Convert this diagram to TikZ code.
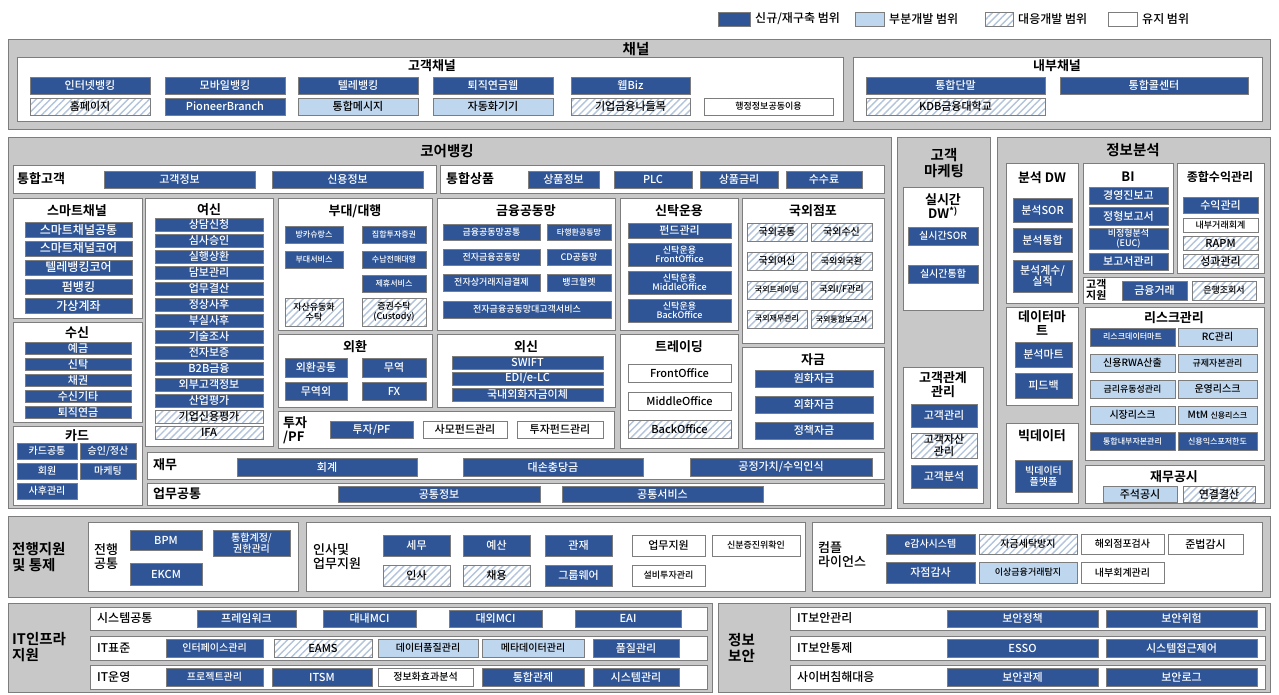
\documentclass[tikz,border=0pt]{standalone}
\usepackage{fontspec}
\setmainfont{Noto Sans CJK KR}[UprightFont={* Medium}, BoldFont={* Bold}]
\usetikzlibrary{positioning,patterns.meta}

\definecolor{dkblue}{RGB}{47,85,150}
\definecolor{ltblue}{RGB}{190,214,238}
\definecolor{grpgray}{RGB}{200,200,200}
\definecolor{hatchc}{RGB}{178,196,220}
\definecolor{edgec}{RGB}{125,125,125}

\newcommand{\fsBig}{\bfseries\fontsize{14.5}{15.5}\selectfont}
\newcommand{\fsHead}{\bfseries\fontsize{13}{14}\selectfont}
\newcommand{\fsLbl}{\fontsize{12}{13}\selectfont}
\newcommand{\fsItem}{\fontsize{11}{11.5}\selectfont}
\newcommand{\fsMid}{\fontsize{10}{10.5}\selectfont}
\newcommand{\fsSmall}{\fontsize{9}{9.5}\selectfont}
\newcommand{\fsTiny}{\fontsize{8}{8.5}\selectfont}

% box from corner (x1,y1) to corner (x2,y2)
\newcommand{\mkbox}[7]{\node[#1, minimum width={(#5-#3)*1pt}, minimum height={(#6-#4)*1pt}] (#2) at ({(#3+#5)/2},{(#4+#6)/2}) {#7};}

\tikzset{
  cell/.style={draw=edgec, line width=0.5pt, inner sep=0pt, outer sep=0pt, align=center, font=\fsItem},
  dk/.style={cell, fill=dkblue, text=white},
  lt/.style={cell, fill=ltblue},
  ht/.style={cell, pattern={Lines[angle=45,distance=5pt,line width=1.4pt]}, pattern color=hatchc},
  wt/.style={cell, fill=white},
  grp/.style={draw=edgec, line width=0.8pt, fill=grpgray, inner sep=0pt},
  pnl/.style={draw=edgec, line width=0.6pt, fill=white, inner sep=0pt},
  big/.style={font=\fsBig, inner sep=0pt, align=center},
  head/.style={font=\fsHead, inner sep=0pt, align=center},
  side/.style={font=\fsBig, inner sep=0pt, align=left, anchor=west},
  lbl/.style={font=\fsHead, inner sep=0pt, align=left, anchor=west},
  rowlbl/.style={font=\fsLbl, inner sep=0pt, align=left, anchor=west},
  legtxt/.style={font=\fsLbl, inner sep=0pt},
}

\begin{document}
\begin{tikzpicture}[x=1pt, y=-1pt]
    \useasboundingbox (0,0) rectangle (1279,694);
    \fill[white] (0,0) rectangle (1279,694);

    % Legend
    \mkbox{dk}{lg1}{718}{12}{750}{26}{}
    \node[legtxt, right=5pt of lg1] (lg1t) {신규/재구축 범위};
    \mkbox{lt}{lg2}{855}{12}{884}{26}{}
    \node[legtxt, right=5pt of lg2] (lg2t) {부분개발 범위};
    \mkbox{ht}{lg3}{985}{12}{1013}{26}{}
    \node[legtxt, right=5pt of lg3] (lg3t) {대응개발 범위};
    \mkbox{wt}{lg4}{1108}{12}{1137}{26}{}
    \node[legtxt, right=5pt of lg4] (lg4t) {유지 범위};

    % Channel
    \mkbox{grp}{chan}{8}{39}{1270}{129}{}
    \node[big] (chanT) at (636,49) {채널};
    \mkbox{pnl}{cch}{17}{57}{843}{121}{}
    \node[head] (cchT) at (432,66) {고객채널};
    \mkbox{dk}{ibk}{30}{77}{150}{94}{인터넷뱅킹}
    \mkbox{dk}{mbk}{165}{77}{285}{94}{모바일뱅킹}
    \mkbox{dk}{tbk}{298}{77}{418}{94}{텔레뱅킹}
    \mkbox{dk}{rpw}{433}{77}{553}{94}{퇴직연금웹}
    \mkbox{dk}{wbz}{571}{77}{690}{94}{웹Biz}
    \mkbox{ht}{hpg}{30}{98}{150}{115}{홈페이지}
    \mkbox{dk}{pnb}{165}{98}{285}{115}{PioneerBranch}
    \mkbox{lt}{ums}{298}{98}{418}{115}{통합메시지}
    \mkbox{lt}{atm}{433}{98}{553}{115}{자동화기기}
    \mkbox{ht}{cfn}{571}{98}{690}{115}{기업금융나들목}
    \mkbox{wt,font=\fsSmall}{adm}{704}{98}{833}{115}{행정정보공동이용}
    \mkbox{pnl}{ich}{853}{57}{1262}{121}{}
    \node[head] (ichT) at (1057,66) {내부채널};
    \mkbox{dk}{tdm}{866}{77}{1045}{94}{통합단말}
    \mkbox{dk}{tcc}{1060}{77}{1248}{94}{통합콜센터}
    \mkbox{ht}{kdb}{866}{98}{1045}{115}{KDB금융대학교}

    % Core banking
    \mkbox{grp}{core}{8}{137}{891}{508}{}
    \node[big] (coreT) at (447,151) {코어뱅킹};
    \mkbox{pnl}{icu}{13}{165}{436}{193}{}
    \node[lbl] (icuT) at (17,179) {통합고객};
    \mkbox{dk}{cin}{104}{171}{255}{188}{고객정보}
    \mkbox{dk}{crd}{272}{171}{423}{188}{신용정보}
    \mkbox{pnl}{ipr}{440}{165}{884}{193}{}
    \node[lbl] (iprT) at (446,179) {통합상품};
    \mkbox{dk}{pin}{528}{171}{599}{188}{상품정보}
    \mkbox{dk}{plc}{614}{171}{692}{188}{PLC}
    \mkbox{dk}{pir}{700}{171}{778}{188}{상품금리}
    \mkbox{dk}{fee}{786}{171}{862}{188}{수수료}

    \mkbox{pnl}{smc}{13}{198}{142}{318}{}
    \node[head] (smcT) at (77,211) {스마트채널};
    \mkbox{dk,font=\fontsize{12}{12}\selectfont}{smc1}{25}{222}{132}{237}{스마트채널공통}
    \mkbox{dk,font=\fontsize{12}{12}\selectfont}{smc2}{25}{241}{132}{256}{스마트채널코어}
    \mkbox{dk,font=\fontsize{12}{12}\selectfont}{smc3}{25}{260}{132}{275}{텔레뱅킹코어}
    \mkbox{dk,font=\fontsize{12}{12}\selectfont}{smc4}{25}{279}{132}{294}{펌뱅킹}
    \mkbox{dk,font=\fontsize{12}{12}\selectfont}{smc5}{25}{298}{132}{313}{가상계좌}

    \mkbox{pnl}{dep}{13}{322}{142}{422}{}
    \node[head] (depT) at (77,333) {수신};
    \mkbox{dk}{dep1}{25}{342}{131}{354}{예금}
    \mkbox{dk}{dep2}{25}{358}{131}{370}{신탁}
    \mkbox{dk}{dep3}{25}{374}{131}{386}{채권}
    \mkbox{dk}{dep4}{25}{390}{131}{402}{수신기타}
    \mkbox{dk}{dep5}{25}{406}{131}{418}{퇴직연금}

    \mkbox{pnl}{card}{13}{426}{142}{505}{}
    \node[head] (cardT) at (77,436) {카드};
    \mkbox{dk,font=\fsMid}{card1}{17}{443}{77}{459}{카드공통}
    \mkbox{dk,font=\fsMid}{card2}{80}{443}{136}{459}{승인/정산}
    \mkbox{dk,font=\fsMid}{card3}{17}{463}{77}{479}{회원}
    \mkbox{dk,font=\fsMid}{card4}{80}{463}{136}{479}{마케팅}
    \mkbox{dk,font=\fsMid}{card5}{17}{483}{77}{499}{사후관리}

    \mkbox{pnl}{loan}{145}{198}{273}{446}{}
    \node[head] (loanT) at (209,210) {여신};
    \mkbox{dk}{ln1}{155}{218}{263}{231}{상담신청}
    \mkbox{dk}{ln2}{155}{234}{263}{247}{심사승인}
    \mkbox{dk}{ln3}{155}{250}{263}{263}{실행상환}
    \mkbox{dk}{ln4}{155}{266}{263}{279}{담보관리}
    \mkbox{dk}{ln5}{155}{282}{263}{295}{업무결산}
    \mkbox{dk}{ln6}{155}{298}{263}{311}{정상사후}
    \mkbox{dk}{ln7}{155}{314}{263}{327}{부실사후}
    \mkbox{dk}{ln8}{155}{330}{263}{343}{기술조사}
    \mkbox{dk}{ln9}{155}{346}{263}{359}{전자보증}
    \mkbox{dk}{ln10}{155}{362}{263}{375}{B2B금융}
    \mkbox{dk}{ln11}{155}{378}{263}{391}{외부고객정보}
    \mkbox{dk}{ln12}{155}{394}{263}{407}{산업평가}
    \mkbox{ht}{ln13}{155}{410}{263}{423}{기업신용평가}
    \mkbox{ht}{ln14}{155}{426}{263}{439}{IFA}

    \mkbox{pnl}{agn}{278}{198}{432}{330}{}
    \node[head] (agnT) at (355,211) {부대/대행};
    \mkbox{dk,font=\fsTiny}{agn1}{285}{226}{343}{243}{방카슈랑스}
    \mkbox{dk,font=\fsTiny}{agn2}{362}{226}{426}{243}{집합투자증권}
    \mkbox{dk,font=\fsTiny}{agn3}{285}{251}{343}{268}{부대서비스}
    \mkbox{dk,font=\fsTiny}{agn4}{362}{251}{426}{268}{수납전매대행}
    \mkbox{dk,font=\fsTiny}{agn5}{362}{275}{426}{292}{제휴서비스}
    \mkbox{ht,font=\fsSmall}{agn6}{285}{298}{343}{326}{자산유동화\\수탁}
    \mkbox{ht,font=\fsSmall}{agn7}{362}{298}{426}{326}{증권수탁\\(Custody)}

    \mkbox{pnl}{fx}{278}{334}{432}{407}{}
    \node[head] (fxT) at (355,347) {외환};
    \mkbox{dk}{fx1}{285}{358}{347}{377}{외환공통}
    \mkbox{dk}{fx2}{362}{358}{426}{377}{무역}
    \mkbox{dk}{fx3}{285}{382}{347}{400}{무역외}
    \mkbox{dk}{fx4}{362}{382}{426}{400}{FX}

    \mkbox{pnl}{inv}{278}{411}{614}{448}{}
    \node[lbl] (invT) at (283,430) {투자\\/PF};
    \mkbox{dk}{inv1}{330}{421}{413}{438}{투자/PF}
    \mkbox{wt}{inv2}{423}{421}{507}{438}{사모펀드관리}
    \mkbox{wt}{inv3}{517}{421}{603}{438}{투자펀드관리}

    \mkbox{pnl}{fcn}{437}{198}{615}{330}{}
    \node[head] (fcnT) at (526,211) {금융공동망};
    \mkbox{dk,font=\fsSmall}{fcn1}{443}{224}{540}{240}{금융공동망공통}
    \mkbox{dk,font=\fsTiny}{fcn2}{547}{224}{611}{240}{타행환공동망}
    \mkbox{dk,font=\fsSmall}{fcn3}{443}{249}{540}{265}{전자금융공동망}
    \mkbox{dk,font=\fsSmall}{fcn4}{547}{249}{611}{265}{CD공동망}
    \mkbox{dk,font=\fsSmall}{fcn5}{443}{274}{540}{291}{전자상거래지급결제}
    \mkbox{dk,font=\fsSmall}{fcn6}{547}{274}{611}{291}{뱅크월렛}
    \mkbox{dk,font=\fsSmall}{fcn7}{443}{301}{611}{318}{전자금융공동망대고객서비스}

    \mkbox{pnl}{fxm}{437}{334}{615}{407}{}
    \node[head] (fxmT) at (526,347) {외신};
    \mkbox{dk}{fxm1}{452}{356}{603}{369}{SWIFT}
    \mkbox{dk}{fxm2}{452}{372}{603}{385}{EDI/e-LC}
    \mkbox{dk}{fxm3}{452}{388}{603}{401}{국내외화자금이체}

    \mkbox{pnl}{trs}{620}{198}{738}{330}{}
    \node[head] (trsT) at (679,211) {신탁운용};
    \mkbox{dk}{trs1}{628}{223}{731}{238}{펀드관리}
    \mkbox{dk,font=\fsSmall}{trs2}{628}{243}{731}{266}{신탁운용\\FrontOffice}
    \mkbox{dk,font=\fsSmall}{trs3}{628}{271}{731}{294}{신탁운용\\MiddleOffice}
    \mkbox{dk,font=\fsSmall}{trs4}{628}{299}{731}{322}{신탁운용\\BackOffice}

    \mkbox{pnl}{trd}{620}{334}{738}{448}{}
    \node[head] (trdT) at (679,347) {트레이딩};
    \mkbox{wt}{trd1}{628}{364}{731}{382}{FrontOffice}
    \mkbox{wt}{trd2}{628}{392}{731}{410}{MiddleOffice}
    \mkbox{ht}{trd3}{628}{420}{731}{438}{BackOffice}

    \mkbox{pnl}{ovs}{742}{198}{884}{343}{}
    \node[head] (ovsT) at (813,211) {국외점포};
    \mkbox{ht,font=\fsMid}{ovs1}{747}{223}{807}{241}{국외공통}
    \mkbox{ht,font=\fsMid}{ovs2}{811}{223}{872}{241}{국외수신}
    \mkbox{ht,font=\fsMid}{ovs3}{747}{252}{807}{270}{국외여신}
    \mkbox{ht,font=\fsSmall}{ovs4}{811}{252}{872}{270}{국외외국환}
    \mkbox{ht,font=\fsTiny}{ovs5}{747}{281}{807}{299}{국외트레이딩}
    \mkbox{ht,font=\fsSmall}{ovs6}{811}{281}{872}{299}{국외I/F관리}
    \mkbox{ht,font=\fsTiny}{ovs7}{747}{310}{807}{328}{국외재무관리}
    \mkbox{ht,font=\fsTiny}{ovs8}{811}{310}{872}{328}{국외통합보고서}

    \mkbox{pnl}{fund}{742}{347}{884}{448}{}
    \node[head] (fundT) at (813,360) {자금};
    \mkbox{dk}{fund1}{755}{370}{873}{387}{원화자금}
    \mkbox{dk}{fund2}{755}{396}{873}{413}{외화자금}
    \mkbox{dk}{fund3}{755}{422}{873}{439}{정책자금}

    \mkbox{pnl}{fin}{147}{452}{884}{479}{}
    \node[lbl] (finT) at (153,465) {재무};
    \mkbox{dk}{fin1}{237}{458}{417}{476}{회계}
    \mkbox{dk}{fin2}{463}{458}{643}{476}{대손충당금}
    \mkbox{dk}{fin3}{690}{458}{872}{476}{공정가치/수익인식}
    \mkbox{pnl}{com}{147}{483}{884}{505}{}
    \node[lbl] (comT) at (153,494) {업무공통};
    \mkbox{dk}{com1}{338}{486}{540}{502}{공통정보}
    \mkbox{dk}{com2}{562}{486}{763}{502}{공통서비스}

    % Customer marketing
    \mkbox{grp}{mkt}{897}{137}{990}{508}{}
    \node[big] (mktT) at (944,163) {고객\\마케팅};
    \mkbox{pnl}{rdw}{903}{187}{983}{310}{}
    \node[head] (rdwT) at (943,206) {실시간\\DW\textsuperscript{*)}};
    \mkbox{dk,font=\fsMid}{rdw1}{908}{227}{978}{245}{실시간SOR}
    \mkbox{dk,font=\fsMid}{rdw2}{908}{265}{978}{283}{실시간통합}
    \mkbox{pnl}{crm}{903}{367}{983}{503}{}
    \node[head] (crmT) at (943,385) {고객관계\\관리};
    \mkbox{dk}{crm1}{911}{404}{977}{427}{고객관리}
    \mkbox{ht}{crm2}{911}{433}{977}{458}{고객자산\\관리}
    \mkbox{dk}{crm3}{911}{465}{977}{488}{고객분석}

    % Information analysis
    \mkbox{grp}{ana}{997}{137}{1270}{508}{}
    \node[big] (anaT) at (1133,150) {정보분석};
    \mkbox{pnl}{adw}{1006}{163}{1078}{303}{}
    \node[head] (adwT) at (1042,178) {분석 DW};
    \mkbox{dk}{adw1}{1013}{198}{1072}{222}{분석SOR}
    \mkbox{dk}{adw2}{1013}{228}{1072}{252}{분석통합}
    \mkbox{dk}{adw3}{1013}{260}{1072}{292}{분석계수/\\실적}
    \mkbox{pnl}{bi}{1083}{163}{1173}{273}{}
    \node[head] (biT) at (1128,177) {BI};
    \mkbox{dk}{bi1}{1089}{187}{1168}{204}{경영진보고}
    \mkbox{dk}{bi2}{1089}{207}{1168}{225}{정형보고서}
    \mkbox{dk,font=\fsSmall}{bi3}{1089}{228}{1168}{249}{비정형분석\\(EUC)}
    \mkbox{dk}{bi4}{1089}{253}{1168}{270}{보고서관리}
    \mkbox{pnl}{prf}{1177}{163}{1264}{273}{}
    \node[head,font=\bfseries\fontsize{12}{13}\selectfont] (prfT) at (1220,177) {종합수익관리};
    \mkbox{dk}{prf1}{1183}{197}{1258}{213}{수익관리}
    \mkbox{wt,font=\fsSmall}{prf2}{1183}{218}{1258}{232}{내부거래회계}
    \mkbox{ht}{prf3}{1183}{236}{1258}{250}{RAPM}
    \mkbox{ht}{prf4}{1183}{254}{1258}{268}{성과관리}
    \mkbox{pnl}{csp}{1083}{277}{1264}{303}{}
    \node[lbl,font=\bfseries\fontsize{11}{10.5}\selectfont] (cspT) at (1086,290) {고객\\지원};
    \mkbox{dk}{csp1}{1122}{281}{1187}{300}{금융거래}
    \mkbox{ht,font=\fsSmall}{csp2}{1192}{281}{1256}{300}{은행조회서}
    \mkbox{pnl}{dmt}{1006}{307}{1078}{405}{}
    \node[head] (dmtT) at (1042,323) {데이터마\\트};
    \mkbox{dk}{dmt1}{1015}{342}{1072}{367}{분석마트}
    \mkbox{dk}{dmt2}{1015}{373}{1072}{398}{피드백}
    \mkbox{pnl}{big}{1006}{423}{1078}{503}{}
    \node[head] (bigT) at (1042,436) {빅데이터};
    \mkbox{dk,font=\fsMid}{big1}{1015}{460}{1072}{492}{빅데이터\\플랫폼}
    \mkbox{pnl}{risk}{1085}{307}{1264}{460}{}
    \node[head] (riskT) at (1174,318) {리스크관리};
    \mkbox{dk,font=\fsTiny}{rsk1}{1090}{328}{1175}{346}{리스크데이터마트}
    \mkbox{lt,font=\fsMid}{rsk2}{1178}{328}{1257}{346}{RC관리}
    \mkbox{lt,font=\fsMid}{rsk3}{1090}{354}{1175}{372}{신용RWA산출}
    \mkbox{lt,font=\fsSmall}{rsk4}{1178}{354}{1257}{372}{규제자본관리}
    \mkbox{lt,font=\fsSmall}{rsk5}{1090}{380}{1175}{398}{금리유동성관리}
    \mkbox{lt,font=\fsMid}{rsk6}{1178}{380}{1257}{398}{운영리스크}
    \mkbox{lt,font=\fsMid}{rsk7}{1090}{406}{1175}{424}{시장리스크}
    \mkbox{lt,font=\fsMid}{rsk8}{1178}{406}{1257}{424}{MtM {\fsTiny 신용리스크}}
    \mkbox{dk,font=\fsTiny}{rsk9}{1090}{432}{1175}{450}{통합내부자본관리}
    \mkbox{dk,font=\fsTiny}{rsk10}{1178}{432}{1257}{450}{신용익스포저한도}
    \mkbox{pnl}{disc}{1085}{465}{1264}{503}{}
    \node[head] (discT) at (1174,477) {재무공시};
    \mkbox{lt}{disc1}{1103}{486}{1177}{502}{주석공시}
    \mkbox{ht}{disc2}{1183}{486}{1255}{502}{연결결산}

    % Bank-wide support and control
    \mkbox{grp}{sup}{8}{516}{1270}{597}{}
    \node[side] (supT) at (12,557) {전행지원\\및 통제};
    \mkbox{pnl}{bcm}{88}{522}{298}{591}{}
    \node[lbl,font=\fsHead\mdseries] (bcmT) at (94,557) {전행\\공통};
    \mkbox{dk}{bcm1}{130}{530}{202}{550}{BPM}
    \mkbox{dk,font=\fsMid}{bcm2}{213}{530}{290}{556}{통합계정/\\권한관리}
    \mkbox{dk}{bcm3}{130}{563}{202}{585}{EKCM}
    \mkbox{pnl}{hrs}{306}{522}{805}{591}{}
    \node[lbl,font=\fsHead\mdseries] (hrsT) at (313,557) {인사및\\업무지원};
    \mkbox{dk}{hrs1}{383}{535}{450}{556}{세무}
    \mkbox{dk}{hrs2}{463}{535}{530}{556}{예산}
    \mkbox{dk}{hrs3}{545}{535}{612}{556}{관재}
    \mkbox{wt}{hrs4}{632}{535}{705}{556}{업무지원}
    \mkbox{wt,font=\fsSmall}{hrs5}{712}{535}{800}{556}{신분증진위확인}
    \mkbox{ht}{hrs6}{383}{565}{450}{586}{인사}
    \mkbox{ht}{hrs7}{463}{565}{530}{586}{채용}
    \mkbox{dk}{hrs8}{545}{565}{612}{586}{그룹웨어}
    \mkbox{wt,font=\fsSmall}{hrs9}{632}{565}{705}{586}{설비투자관리}
    \mkbox{pnl}{cpl}{812}{522}{1262}{591}{}
    \node[lbl,font=\fsHead\mdseries] (cplT) at (818,555) {컴플\\라이언스};
    \mkbox{dk,font=\fsMid}{cpl1}{886}{534}{975}{554}{e감사시스템}
    \mkbox{ht,font=\fsMid}{cpl2}{979}{534}{1077}{554}{자금세탁방지}
    \mkbox{wt,font=\fsMid}{cpl3}{1081}{534}{1164}{554}{해외점포검사}
    \mkbox{wt}{cpl4}{1168}{534}{1243}{554}{준법감시}
    \mkbox{dk}{cpl5}{886}{562}{975}{583}{자점감사}
    \mkbox{lt,font=\fsSmall}{cpl6}{979}{562}{1077}{583}{이상금융거래탐지}
    \mkbox{wt,font=\fsMid}{cpl7}{1081}{562}{1164}{583}{내부회계관리}

    % IT infrastructure
    \mkbox{grp}{itf}{8}{603}{712}{692}{}
    \node[side] (itfT) at (12,647) {IT인프라\\지원};
    \mkbox{pnl}{sys}{90}{607}{707}{630}{}
    \node[rowlbl] (sysT) at (97,618) {시스템공통};
    \mkbox{dk}{sys1}{197}{610}{296}{627}{프레임워크}
    \mkbox{dk}{sys2}{323}{610}{416}{627}{대내MCI}
    \mkbox{dk}{sys3}{449}{610}{542}{627}{대외MCI}
    \mkbox{dk}{sys4}{575}{610}{681}{627}{EAI}
    \mkbox{pnl}{std}{90}{636}{707}{660}{}
    \node[rowlbl] (stdT) at (97,648) {IT표준};
    \mkbox{dk,font=\fsMid}{std1}{166}{639}{263}{657}{인터페이스관리}
    \mkbox{ht}{std2}{274}{639}{372}{657}{EAMS}
    \mkbox{lt,font=\fsMid}{std3}{378}{639}{478}{657}{데이터품질관리}
    \mkbox{lt,font=\fsMid}{std4}{482}{639}{584}{657}{메타데이터관리}
    \mkbox{dk}{std5}{593}{639}{679}{657}{품질관리}
    \mkbox{pnl}{ops}{90}{665}{707}{689}{}
    \node[rowlbl] (opsT) at (97,677) {IT운영};
    \mkbox{dk,font=\fsMid}{ops1}{166}{668}{263}{686}{프로젝트관리}
    \mkbox{dk}{ops2}{272}{668}{372}{686}{ITSM}
    \mkbox{wt,font=\fsMid}{ops3}{378}{668}{473}{686}{정보화효과분석}
    \mkbox{dk}{ops4}{482}{668}{584}{686}{통합관제}
    \mkbox{dk}{ops5}{593}{668}{679}{686}{시스템관리}

    % Information security
    \mkbox{grp}{sec}{718}{603}{1270}{692}{}
    \node[side] (secT) at (728,648) {정보\\보안};
    \mkbox{pnl}{sec1}{790}{607}{1265}{630}{}
    \node[rowlbl] (sec1T) at (797,618) {IT보안관리};
    \mkbox{dk}{sec1a}{947}{610}{1098}{627}{보안정책}
    \mkbox{dk}{sec1b}{1106}{610}{1257}{627}{보안위험}
    \mkbox{pnl}{sec2}{790}{636}{1265}{660}{}
    \node[rowlbl] (sec2T) at (797,648) {IT보안통제};
    \mkbox{dk}{sec2a}{947}{639}{1098}{657}{ESSO}
    \mkbox{dk}{sec2b}{1106}{639}{1257}{657}{시스템접근제어}
    \mkbox{pnl}{sec3}{790}{665}{1265}{689}{}
    \node[rowlbl] (sec3T) at (797,677) {사이버침해대응};
    \mkbox{dk}{sec3a}{947}{668}{1098}{686}{보안관제}
    \mkbox{dk}{sec3b}{1106}{668}{1257}{686}{보안로그}
\end{tikzpicture}
\end{document}
